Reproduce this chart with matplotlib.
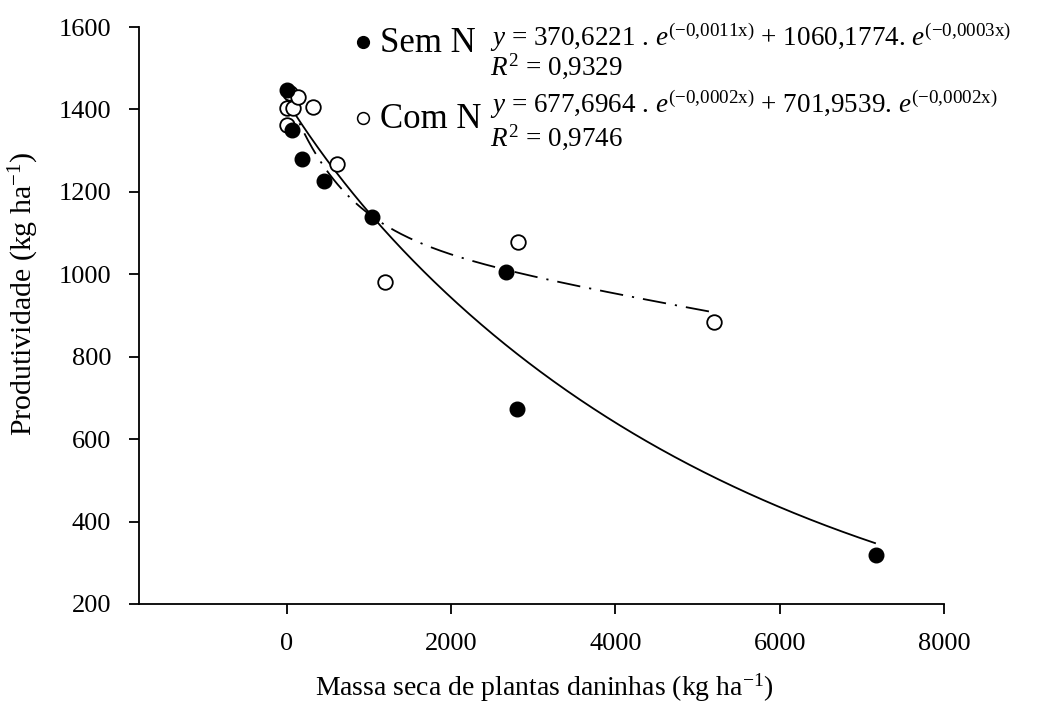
import numpy as np
import matplotlib
matplotlib.use("Agg")
import matplotlib.pyplot as plt

# ---- data ----
sem_n_x = [0, 57, 179, 455, 1040, 2667, 2805, 7170]
sem_n_y = [1447, 1350, 1279, 1227, 1138, 1006, 674, 320]
com_n_x = [0, 0, 37, 77, 138, 313, 613, 1194, 2818, 5205]
com_n_y = [1362, 1403, 1441, 1404, 1431, 1407, 1267, 982, 1079, 885]

# fitted curves (two-term exponential decay), parameters tuned to drawn curves
sem_fit = dict(a=35.0, b=0.0015, c=1385.0, d=0.000193, xmax=7160)
com_fit = dict(a=320.0, b=0.0015, c=1119.0, d=0.0000403, xmax=5150)

x_ticks = [0, 2000, 4000, 6000, 8000]
y_ticks = [200, 400, 600, 800, 1000, 1200, 1400, 1600]

eq_sem = r"$y$ = 370,6221 . $e^{(-0{,}0011\mathrm{x})}$ + 1060,1774. $e^{(-0{,}0003\mathrm{x})}$"
r2_sem = r"$R^2$ = 0,9329"
eq_com = r"$y$ = 677,6964 . $e^{(-0{,}0002\mathrm{x})}$ + 701,9539. $e^{(-0{,}0002\mathrm{x})}$"
r2_com = r"$R^2$ = 0,9746"

plt.rcParams['font.family'] = ['Liberation Serif', 'DejaVu Serif']
plt.rcParams['mathtext.fontset'] = 'custom'
plt.rcParams['mathtext.rm'] = 'Liberation Serif'
plt.rcParams['mathtext.it'] = 'Liberation Serif:italic'
plt.rcParams['mathtext.bf'] = 'Liberation Serif:bold'

W, H = 1058, 711
fig = plt.figure(figsize=(W / 100, H / 100), dpi=100)
L, R, T, B = 139, 944, 27, 604
ax = fig.add_axes([L / W, 1 - B / H, (R - L) / W, (B - T) / H])

ax.set_xlim(-1800, 8000)
ax.set_ylim(200, 1600)

def two_exp(p, x):
    return p['a'] * np.exp(-p['b'] * x) + p['c'] * np.exp(-p['d'] * x)

xs = np.linspace(0, sem_fit['xmax'], 400)
ax.plot(xs, two_exp(sem_fit, xs), color='black', lw=1.3, zorder=2)
xc = np.linspace(0, com_fit['xmax'], 400)
ax.plot(xc, two_exp(com_fit, xc), color='black', lw=1.3,
        dashes=(13, 5, 1.2, 5), zorder=2)

ax.plot(com_n_x, com_n_y, 'o', ms=10.5, mfc='white', mec='black', mew=1.3,
        ls='none', zorder=3)
ax.plot(sem_n_x, sem_n_y, 'o', ms=10.5, mfc='black', mec='black',
        ls='none', zorder=4)

for s in ['top', 'right']:
    ax.spines[s].set_visible(False)
for s in ['left', 'bottom']:
    ax.spines[s].set_linewidth(1.3)
ax.spines['bottom'].set_bounds(-1800, 8000)

ax.set_xticks(x_ticks)
ax.set_yticks(y_ticks)
ax.tick_params(axis='both', direction='out', length=7, width=1.3,
               labelsize=19, colors='black')
ax.tick_params(axis='x', pad=14)
ax.tick_params(axis='y', pad=13)

ax.set_xlabel(r"Massa seca de plantas daninhas (kg ha$^{\mathregular{-1}}$)",
              fontsize=20)
ax.xaxis.set_label_coords((544 - L) / (R - L), -(672 - B) / (B - T))
ax.set_ylabel(r"Produtividade (kg ha$^{\mathregular{-1}}$)", fontsize=21.5)
ax.yaxis.set_label_coords(-(L - 41) / (R - L), (B - 294) / (B - T))

def fx(px):
    return px / W

def fy(py):
    return 1 - py / H

# legend-like annotations
fig.lines.append(plt.Line2D([fx(363)], [fy(42)], marker='o', ms=8.5,
                            mfc='black', mec='black', transform=fig.transFigure))
fig.text(fx(380), fy(52), "Sem N", fontsize=25, va='baseline', ha='left')
fig.lines.append(plt.Line2D([fx(363)], [fy(118)], marker='o', ms=8.5,
                            mfc='white', mec='black', mew=1.1,
                            transform=fig.transFigure))
fig.text(fx(380), fy(128), "Com N", fontsize=25, va='baseline', ha='left')

fig.text(fx(490), fy(46), eq_sem, fontsize=19.5, va='baseline', ha='left')
fig.text(fx(490), fy(75), r2_sem, fontsize=19.5, va='baseline', ha='left')
fig.text(fx(490), fy(113), eq_com, fontsize=19.5, va='baseline', ha='left')
fig.text(fx(490), fy(146), r2_com, fontsize=19.5, va='baseline', ha='left')

fig.savefig("out.png", dpi=100)
